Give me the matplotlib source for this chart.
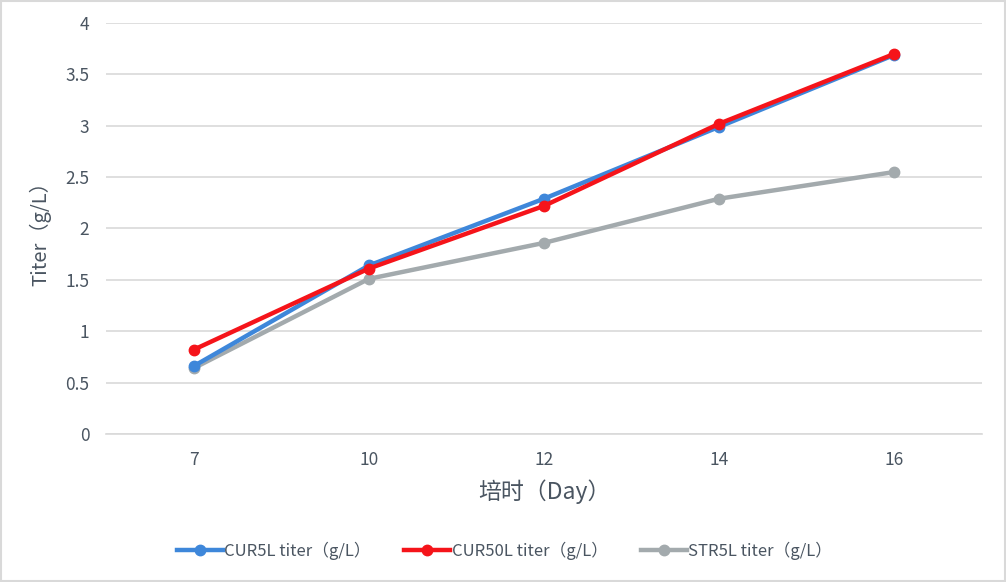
import numpy as np
import matplotlib.pyplot as plt

plt.rcParams['font.family'] = ['Noto Sans CJK SC', 'DejaVu Sans']

days = ['7', '10', '12', '14', '16']
cur5l = [0.66, 1.64, 2.29, 2.99, 3.69]
cur50l = [0.82, 1.61, 2.22, 3.02, 3.70]
str5l = [0.64, 1.51, 1.86, 2.29, 2.55]
yticks = [0, 0.5, 1, 1.5, 2, 2.5, 3, 3.5, 4]

txt = '#4A5561'

fig = plt.figure(figsize=(10.06, 5.82), dpi=100)
ax = fig.add_axes([0.1054, 0.2543, 0.8708, 0.7062])

x = np.arange(len(days))
ax.plot(x, cur5l, color='#3E87DA', lw=3.2, marker='o', ms=7.5, label='CUR5L titer（g/L）', zorder=3)
ax.plot(x, cur50l, color='#F5141A', lw=3.2, marker='o', ms=7.5, label='CUR50L titer（g/L）', zorder=4)
ax.plot(x, str5l, color='#A3AAAD', lw=3.2, marker='o', ms=7.5, label='STR5L titer（g/L）', zorder=2)

ax.set_xlim(-0.5, len(days) - 0.5)
ax.set_ylim(0, 4)
ax.set_xticks(x)
ax.set_xticklabels(days)
ax.set_yticks(yticks)
ax.set_yticklabels([f'{v:g}' for v in yticks])
ax.grid(axis='y', color='#D9D9D9', lw=1.2)
ax.set_axisbelow(True)
for s in ['top', 'right', 'left']:
    ax.spines[s].set_visible(False)
ax.spines['bottom'].set_color('#D9D9D9')
ax.spines['bottom'].set_linewidth(1.2)
ax.tick_params(length=0, labelsize=12.5, colors=txt, pad=12)
ax.tick_params(axis='y', pad=12)

ax.set_xlabel('培时（Day）', fontsize=16.5, color=txt, labelpad=8)
ax.set_ylabel('Titer（g/L）', fontsize=14.5, color=txt, labelpad=10)

leg = ax.legend(loc='upper center', bbox_to_anchor=(0.455, -0.225), ncol=3, frameon=False,
                fontsize=12, handlelength=2.75, columnspacing=2.0, handletextpad=0.1)
for t in leg.get_texts():
    t.set_color(txt)

fig.patches.append(plt.Rectangle((0.001, 0.001), 0.998, 0.998, transform=fig.transFigure,
                                 fill=False, edgecolor='#D9D9D9', lw=1.5))

fig.savefig('out.png', dpi=100)
